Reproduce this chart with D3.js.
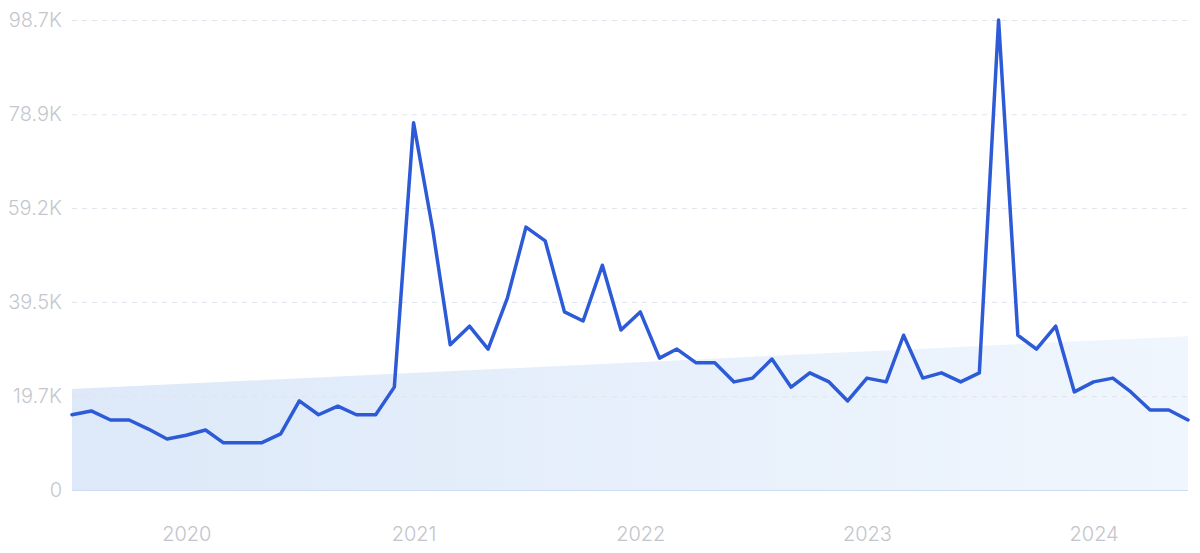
<!DOCTYPE html>
<html>
<head>
<meta charset="utf-8">
<script src="https://cdn.jsdelivr.net/npm/d3@7/dist/d3.min.js"></script>
<style>
  html, body { margin: 0; padding: 0; background: #ffffff; }
  svg { display: block; font-family: Inter, "Noto Sans", sans-serif; }
</style>
</head>
<body>
<svg id="chart" width="1200" height="553"></svg>
<script>
// Monthly values (thousands), Jul 2019 .. Jun 2024
const startMonth = "2019-07-01";
const values = [
  15.8, 16.6, 14.7, 14.7, 12.8, 10.7, 11.5, 12.6, 9.9, 9.9, 9.9, 11.8,
  18.7, 15.8, 17.6, 15.8, 15.8, 21.6, 77.1, 54.6, 30.5, 34.4, 29.6, 40.3,
  55.2, 52.3, 37.4, 35.5, 47.2, 33.6, 37.4, 27.7, 29.6, 26.7, 26.7, 22.7,
  23.5, 27.5, 21.6, 24.6, 22.7, 18.7, 23.5, 22.7, 32.5, 23.5, 24.6, 22.7,
  24.6, 98.7, 32.5, 29.6, 34.4, 20.6, 22.7, 23.5, 20.6, 16.8, 16.8, 14.7
];
// Trend band (start, end) in thousands
const trendValues = [21.2, 32.3];
const yTickValues = [0, 19.7, 39.5, 59.2, 78.9, 98.7];
const yTickLabels = ["0", "19.7K", "39.5K", "59.2K", "78.9K", "98.7K"];
const xTickYears = ["2020", "2021", "2022", "2023", "2024"];

const svg = d3.select("#chart");
const margin = { left: 72, right: 12, top: 20, bottom: 63 };
const W = 1200, H = 553;

const parse = d3.timeParse("%Y-%m-%d");
const start = parse(startMonth);
const dates = values.map((_, i) => d3.timeMonth.offset(start, i));
const data = values.map((v, i) => ({ date: dates[i], value: v }));

const x = d3.scaleTime()
  .domain([dates[0], dates[dates.length - 1]])
  .range([margin.left, W - margin.right]);
const y = d3.scaleLinear()
  .domain([0, 98.7])
  .range([H - margin.bottom, margin.top]);

// gradient for trend band
const defs = svg.append("defs");
const grad = defs.append("linearGradient").attr("id", "bandGrad")
  .attr("x1", "0%").attr("x2", "100%").attr("y1", "0%").attr("y2", "0%");
grad.append("stop").attr("offset", "0%").attr("stop-color", "#dde9f9");
grad.append("stop").attr("offset", "100%").attr("stop-color", "#f0f6fd");

// trend band
const trendData = [
  { date: dates[0], value: trendValues[0] },
  { date: dates[dates.length - 1], value: trendValues[1] }
];
svg.append("path")
  .datum(trendData)
  .attr("fill", "url(#bandGrad)")
  .attr("d", d3.area().x(d => x(d.date)).y0(y(0)).y1(d => y(d.value)));

// gridlines
const yAxis = d3.axisLeft(y)
  .tickValues(yTickValues)
  .tickFormat((d, i) => yTickLabels[i])
  .tickSize(-(W - margin.left - margin.right))
  .tickPadding(10);
const gy = svg.append("g")
  .attr("transform", `translate(${margin.left},0)`)
  .call(yAxis);
gy.select(".domain").remove();
gy.selectAll(".tick line")
  .attr("stroke", d => d === 0 ? "#cddcf3" : "#dfe4ec")
  .attr("stroke-width", 1)
  .attr("stroke-dasharray", d => d === 0 ? null : "5,5");
gy.selectAll(".tick text")
  .attr("fill", "#c4c7cd")
  .attr("font-size", 20)
  .attr("font-weight", 300)
  .attr("font-family", "Inter, 'Noto Sans', sans-serif");

// x axis
const yearDates = xTickYears.map(yr => parse(yr + "-01-01"));
const xAxis = d3.axisBottom(x)
  .tickValues(yearDates)
  .tickFormat(d3.timeFormat("%Y"))
  .tickSize(0)
  .tickPadding(37);
const gx = svg.append("g")
  .attr("transform", `translate(0,${y(0)})`)
  .call(xAxis);
gx.select(".domain").remove();
gx.selectAll(".tick text")
  .attr("fill", "#c2c5cb")
  .attr("font-size", 20)
  .attr("font-weight", 300)
  .attr("font-family", "Inter, 'Noto Sans', sans-serif");

// line
svg.append("path")
  .datum(data)
  .attr("fill", "none")
  .attr("stroke", "#2d5ad6")
  .attr("stroke-width", 3.5)
  .attr("stroke-linejoin", "round")
  .attr("stroke-linecap", "round")
  .attr("d", d3.line().x(d => x(d.date)).y(d => y(d.value)));
</script>
</body>
</html>
